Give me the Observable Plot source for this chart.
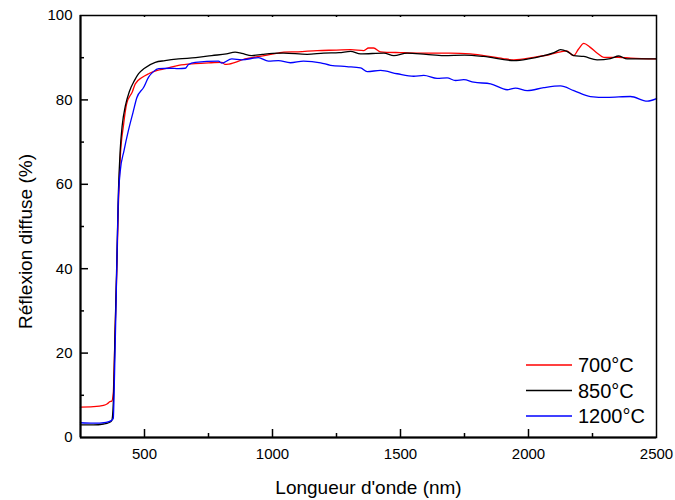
<!DOCTYPE html>
<html>
<head>
<meta charset="utf-8">
<script src="https://cdn.jsdelivr.net/npm/d3@7"></script>
<script src="https://cdn.jsdelivr.net/npm/@observablehq/plot@0.6"></script>
<style>
  html, body { margin: 0; padding: 0; background: #fff; }
  #chart svg { display: block; }
</style>
</head>
<body>
<div id="chart"></div>
<script>
// ---- Data ----
const seriesNames = ["700°C", "850°C", "1200°C"];

const wl700 = [250,300,340,355,365,372,378,385,392,398,405,418,430,453,464,490,516,550,581,633,698,760,802,815,830,893,950,1023,1044,1100,1175,1250,1305,1357,1375,1395,1422,1500,1565,1695,1773,1825,1900,1943,2021,2080,2125,2150,2176,2195,2216,2240,2270,2294,2350,2400,2500];
const r700  = [7.2,7.3,7.6,8.0,8.5,8.6,10.5,25,40,55,66,74,79,82,83.8,85.3,86.2,87,87.4,88.2,88.6,88.8,88.9,88.4,88.5,89.7,90.3,91.1,91.3,91.4,91.7,91.8,91.9,91.7,92.3,92.3,91.4,91.2,91.1,91.1,90.9,90.5,89.8,89.5,90.1,90.7,91.4,91.6,90.5,92.0,93.4,92.5,91.0,90.1,90.1,89.9,89.7];

const wl850 = [250,300,340,360,372,378,385,392,398,405,413,425,441,460,477,500,542,580,633,700,763,820,854,880,919,960,1023,1044,1135,1200,1260,1305,1344,1435,1474,1526,1600,1669,1750,1825,1943,2000,2060,2100,2125,2150,2177,2216,2268,2320,2353,2385,2450,2500];
const r850  = [3.0,3.0,3.2,3.5,4.0,8,25,42,58,68,74,78.5,82,84.5,86.2,87.5,88.9,89.3,89.7,90,90.5,90.9,91.3,91.0,90.5,90.8,91.1,91.1,90.8,91.1,91.2,91.5,90.9,91.1,90.5,91.1,90.8,90.5,90.6,90.3,89.3,89.7,90.5,91.2,91.9,91.5,90.5,90.3,89.5,89.8,90.4,89.7,89.7,89.7];

const wl1200 = [250,300,350,370,378,383,390,397,405,420,437,455,470,497,516,535,555,600,633,659,672,698,789,802,841,880,945,984,1023,1070,1121,1188,1227,1290,1344,1370,1422,1487,1552,1591,1643,1682,1715,1747,1786,1852,1917,1949,1995,2060,2125,2177,2242,2307,2398,2464,2500];
const r1200  = [3.5,3.4,3.6,4.0,4.5,15,35,55,63,68,72.7,77,80.5,83,85.4,86.7,87.4,87.5,87.4,87.5,88.4,88.9,89.2,88.7,89.7,89.5,90,89.2,89.3,88.8,89.2,88.8,88.2,87.9,87.6,86.7,87,86.2,85.6,85.8,85.1,85.2,84.6,84.8,84.2,83.8,82.4,82.8,82.2,82.9,83.3,82.2,80.8,80.6,80.8,79.7,80.3];

const xTickLabels = [500, 1000, 1500, 2000, 2500];
const xMinorTicks = [750, 1250, 1750, 2250];
const yTickLabels = [0, 20, 40, 60, 80, 100];
const yMinorTicks = [10, 30, 50, 70, 90];

const xTitle = "Longueur d'onde (nm)";
const yTitle = "Réflexion diffuse (%)";

// ---- Build table ----
const toRows = (name, wl, r) => wl.map((w, i) => ({series: name, wl: w, r: r[i]}));
const rows = [
  ...toRows(seriesNames[0], wl700, r700),
  ...toRows(seriesNames[1], wl850, r850),
  ...toRows(seriesNames[2], wl1200, r1200)
];
const colors = ["#ff0000", "#000000", "#0000ff"];

// ---- Layout ----
const W = 675, H = 500;
const mL = 80, mR = 19, mT = 15, mB = 63;
const frameW = W - mL - mR, frameH = H - mT - mB;
const fmt = d3.format("d");

const chart = Plot.plot({
  width: W, height: H,
  marginLeft: mL, marginRight: mR, marginTop: mT, marginBottom: mB,
  style: {fontFamily: "'Liberation Sans', Arial, sans-serif", fontSize: "15px", background: "#fff", color: "#000"},
  x: {domain: [250, 2500]},
  y: {domain: [0, 100]},
  color: {domain: seriesNames, range: colors},
  marks: [
    Plot.line(rows, {x: "wl", y: "r", z: "series", stroke: "series", strokeWidth: 1.3, curve: "monotone-x"}),
    // frame & axes lines
    Plot.frame({stroke: "#000", strokeWidth: 1.5}),
    Plot.ruleY([0], {stroke: "#000", strokeWidth: 2}),
    Plot.ruleX([250], {stroke: "#000", strokeWidth: 2}),
    // inward ticks (bottom)
    Plot.tickX(xTickLabels.filter(d => d < 2500), {x: d => d, insetTop: frameH - 8, strokeWidth: 1.5}),
    Plot.tickX(xMinorTicks, {x: d => d, insetTop: frameH - 4, strokeWidth: 1.5}),
    // top ticks
    Plot.tickX([...xTickLabels.filter(d => d < 2500), ...xMinorTicks], {x: d => d, insetBottom: frameH - 2, strokeWidth: 1.5}),
    // inward ticks (left)
    Plot.tickY(yTickLabels.filter(d => d > 0 && d < 100), {y: d => d, insetRight: frameW - 8, strokeWidth: 1.5}),
    Plot.tickY(yMinorTicks, {y: d => d, insetRight: frameW - 4, strokeWidth: 1.5}),
    // tick labels
    Plot.axisX({ticks: xTickLabels, tickSize: 0, tickPadding: 11, label: null, fontSize: 15, tickFormat: fmt}),
    Plot.axisY({ticks: yTickLabels, tickSize: 0, tickPadding: 8, label: null, fontSize: 15, tickFormat: fmt}),
    // axis titles
    Plot.text([xTitle], {frameAnchor: "bottom", dy: 50, lineAnchor: "middle", textAnchor: "middle", fontSize: 19, text: d => d}),
    Plot.text([yTitle], {frameAnchor: "left", dx: -55, dy: 15, rotate: -90, lineAnchor: "middle", textAnchor: "middle", fontSize: 19, text: d => d})
  ]
});

document.getElementById("chart").appendChild(chart);

// ---- Legend (inside plot, bottom-right) ----
const svg = d3.select(chart);
const lg = svg.append("g")
  .attr("font-family", "'Liberation Sans', Arial, sans-serif")
  .attr("font-size", 20)
  .attr("text-anchor", "start");
const legX0 = W - mR - 130, legLineLen = 46, rowGap = 25.5;
const legY0 = H - mB - 72;
seriesNames.forEach((name, i) => {
  const y = legY0 + i * rowGap;
  lg.append("line").attr("x1", legX0).attr("x2", legX0 + legLineLen).attr("y1", y).attr("y2", y)
    .attr("stroke", colors[i]).attr("stroke-width", 1.3);
  lg.append("text").attr("x", legX0 + legLineLen + 6).attr("y", y).attr("dy", "0.35em")
    .attr("text-anchor", "start").text(name);
});
</script>
</body>
</html>
